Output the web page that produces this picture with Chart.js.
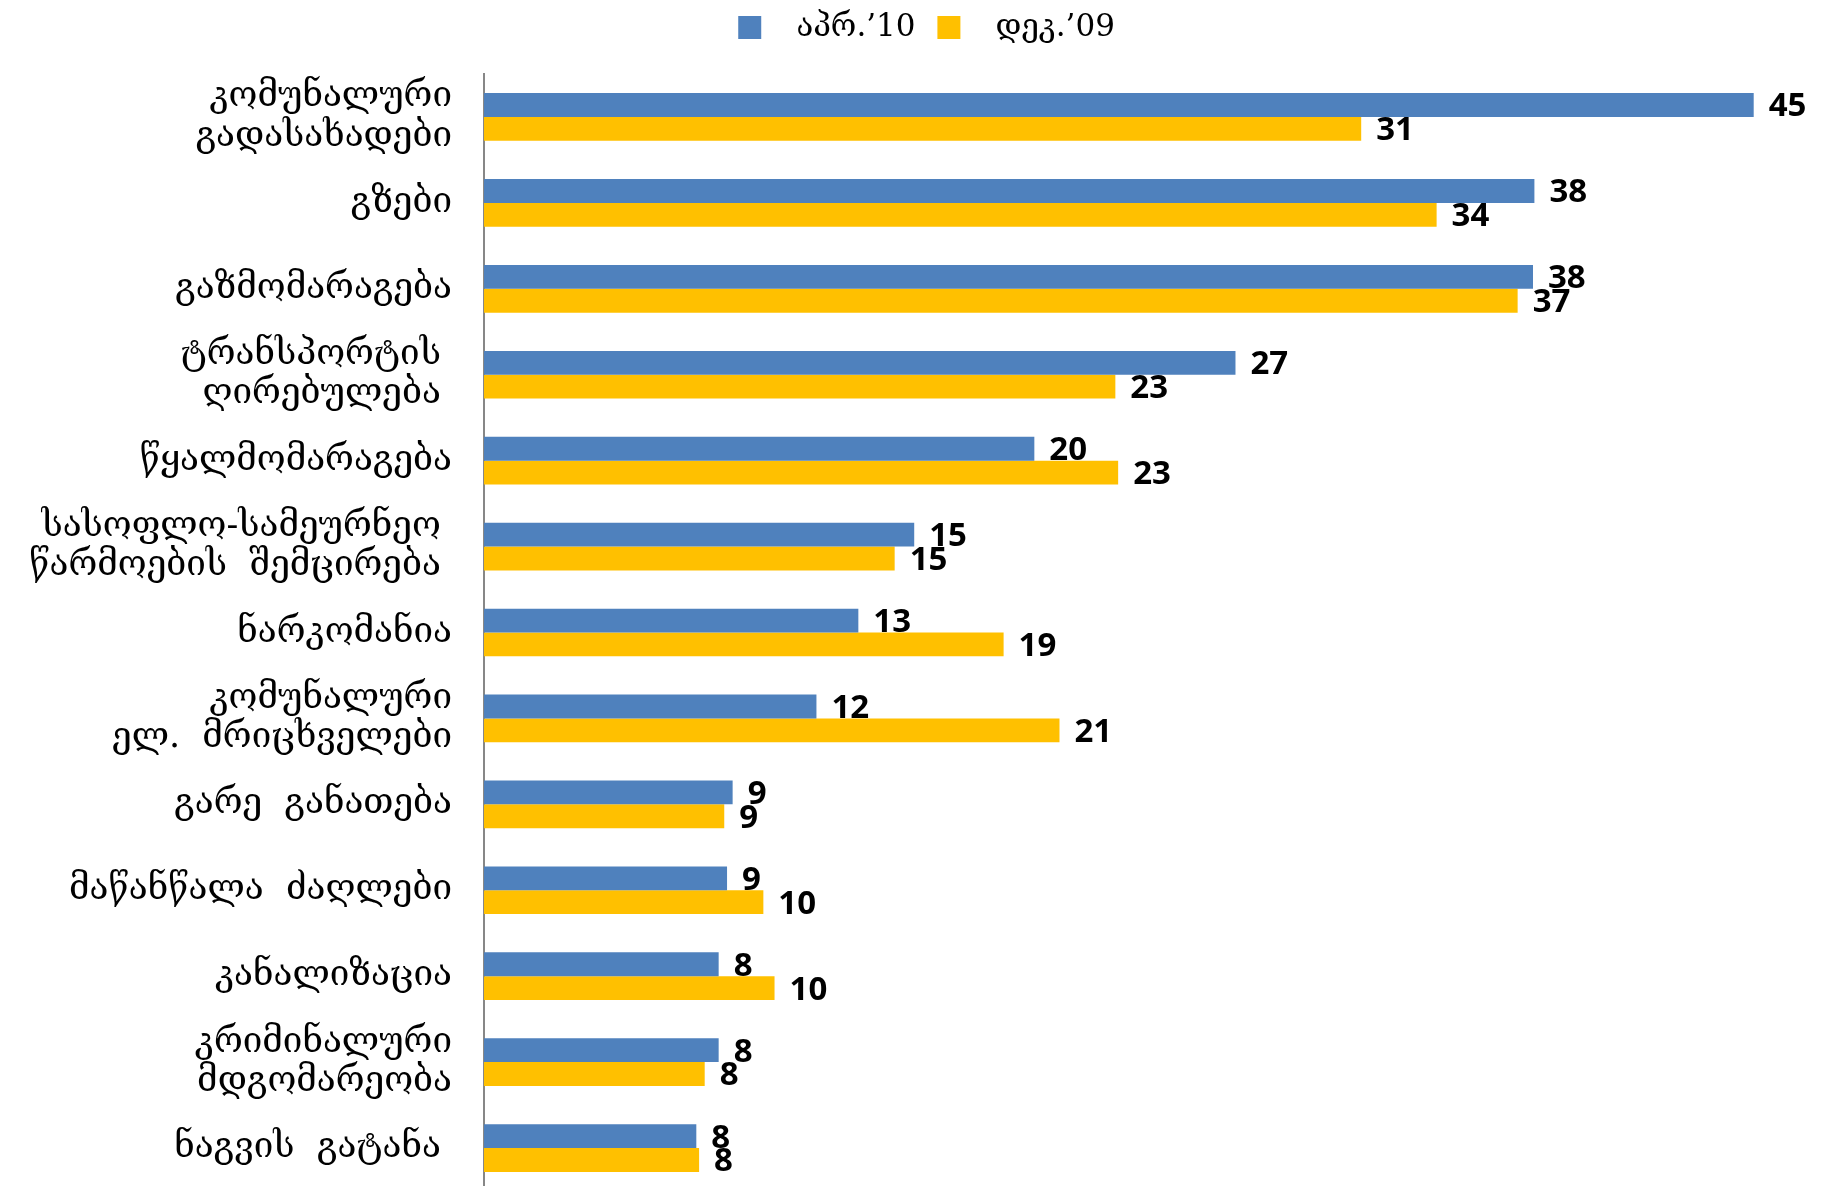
<!DOCTYPE html>
<html>
<head>
<meta charset="utf-8">
<script src="https://cdn.jsdelivr.net/npm/chart.js@4.4.1/dist/chart.umd.min.js"></script>
<style>
  html, body { margin: 0; padding: 0; background: #fff; overflow: hidden; }
  /* the original plot runs a few pixels past the bottom edge of the picture */
  #wrap { width: 1821px; height: 1191px; }
</style>
</head>
<body>
<div id="wrap"><canvas id="chart"></canvas></div>
<script>
// categories (multi-line labels, trailing spaces kept as in the original)
var categories = [
  ['კომუნალური', 'გადასახადები'],
  'გზები',
  'გაზმომარაგება',
  ['ტრანსპორტის ', 'ღირებულება '],
  'წყალმომარაგება',
  ['სასოფლო-სამეურნეო ', 'წარმოების  შემცირება '],
  'ნარკომანია',
  ['კომუნალური', 'ელ.  მრიცხველები'],
  'გარე  განათება',
  'მაწანწალა  ძაღლები',
  'კანალიზაცია',
  ['კრიმინალური', 'მდგომარეობა'],
  'ნაგვის  გატანა '
];

var seriesNames = ['აპრ.’10', 'დეკ.’09'];

var apr10 = [45.45, 37.6, 37.55, 26.9, 19.7, 15.4, 13.4, 11.9, 8.9, 8.7, 8.4, 8.4, 7.6];
var dec09 = [31.4, 34.1, 37.0, 22.6, 22.7, 14.7, 18.6, 20.6, 8.6, 10.0, 10.4, 7.9, 7.7];

var georgianFont = '"DejaVu Serif", "DejaVu Sans", serif';

// draws rounded value next to the end of each bar
var valueLabels = {
  id: 'valueLabels',
  afterDatasetsDraw: function(chart) {
    var ctx = chart.ctx;
    ctx.save();
    ctx.font = 'bold 33px "Open Sans", sans-serif';
    ctx.fillStyle = '#000';
    ctx.textAlign = 'left';
    ctx.textBaseline = 'middle';
    chart.data.datasets.forEach(function(ds, i) {
      var meta = chart.getDatasetMeta(i);
      meta.data.forEach(function(bar, j) {
        ctx.fillText(Math.round(ds.data[j]), bar.x + 15, bar.y + 2);
      });
    });
    ctx.restore();
  }
};

// extra room under the legend, and nudge it a bit to the right
var legendTweak = {
  id: 'legendTweak',
  beforeInit: function(chart) {
    var legend = chart.legend;
    var fit = legend.fit;
    var draw = legend.draw;
    legend.fit = function() {
      fit.call(legend);
      legend.height += 21;
    };
    legend.draw = function() {
      var ctx = legend.ctx;
      ctx.save();
      ctx.translate(33, 0);
      draw.apply(legend, arguments);
      ctx.restore();
    };
  }
};

new Chart(document.getElementById('chart'), {
  type: 'bar',
  data: {
    labels: categories,
    datasets: [{
      label: seriesNames[0],
      data: apr10,
      backgroundColor: '#4F81BD'
    }, {
      label: seriesNames[1],
      data: dec09,
      backgroundColor: '#FFC000'
    }]
  },
  options: {
    indexAxis: 'y',
    responsive: true,
    maintainAspectRatio: false,
    animation: false,
    layout: { padding: { top: 0, right: 24, bottom: 0, left: 0 } },
    datasets: {
      bar: { barPercentage: 1, categoryPercentage: 0.555 }
    },
    scales: {
      x: {
        min: 0,
        max: 47,
        display: false
      },
      y: {
        grid: { display: false, drawTicks: false },
        border: { display: true, color: '#878787', width: 2 },
        ticks: {
          color: '#000',
          padding: 32,
          font: { family: georgianFont, size: 35, lineHeight: 1.12 }
        },
        afterFit: function(scale) {
          scale.width = 484;
          scale.paddingTop = 0;
          scale.paddingBottom = 0;
        }
      }
    },
    plugins: {
      legend: {
        position: 'top',
        labels: {
          color: '#000',
          boxWidth: 23,
          boxHeight: 23,
          padding: 12,
          font: { family: georgianFont, size: 31 },
          generateLabels: function(chart) {
            var items = Chart.defaults.plugins.legend.labels.generateLabels(chart);
            items.forEach(function(it) { it.text = '  ' + it.text + ' '; });
            return items;
          }
        }
      },
      tooltip: { enabled: false }
    }
  },
  plugins: [valueLabels, legendTweak]
});
</script>
</body>
</html>
